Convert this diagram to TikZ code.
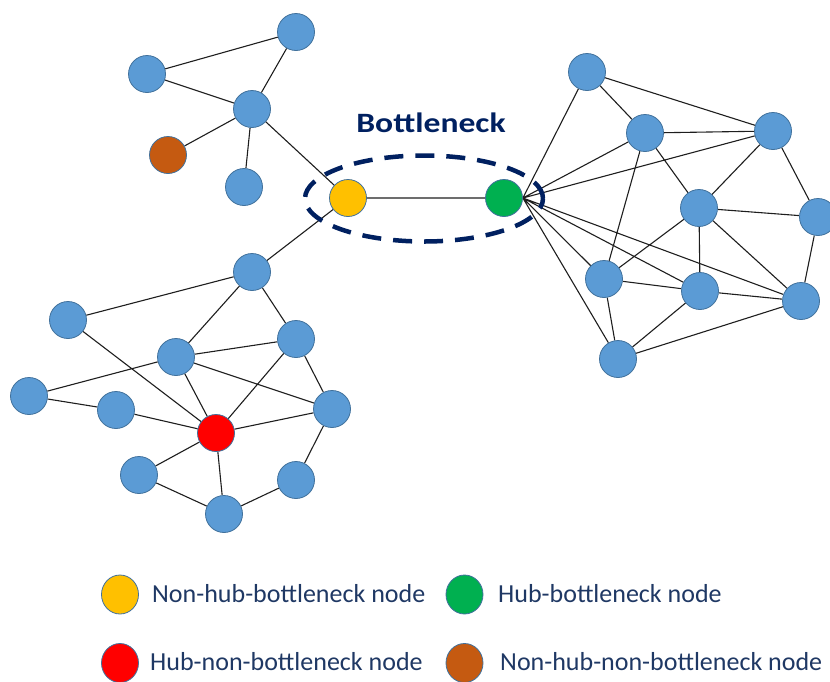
\documentclass[tikz,border=0pt]{standalone}
\usepackage{fontspec}
\setmainfont{Carlito}
\usetikzlibrary{shapes.geometric,backgrounds}
\definecolor{nodeblue}{RGB}{91,155,213}
\definecolor{nodeline}{RGB}{65,113,156}
\definecolor{hubyellow}{RGB}{255,192,0}
\definecolor{hubgreen}{RGB}{0,176,80}
\definecolor{hubred}{RGB}{255,0,0}
\definecolor{hubbrown}{RGB}{197,90,17}
\definecolor{navy}{RGB}{0,32,96}
\definecolor{legtext}{RGB}{31,56,100}
\definecolor{edgecol}{RGB}{30,30,30}
\tikzset{
  nd/.style={circle, draw=nodeline, line width=0.8pt, fill=nodeblue, minimum size=37pt, inner sep=0pt},
  yel/.style={nd, fill=hubyellow},
  grn/.style={nd, fill=hubgreen},
  rd/.style={nd, fill=hubred},
  brn/.style={nd, fill=hubbrown},
  edge/.style={draw=edgecol, line width=1.1pt},
  legdot/.style={ellipse, draw=nodeline, line width=0.8pt, minimum width=37pt, minimum height=39pt, inner sep=0pt},
  legtxt/.style={anchor=base west, text=legtext, font=\fontsize{26}{30}\selectfont, inner sep=0pt},
}
\begin{document}
\begin{tikzpicture}[x=1pt,y=-1pt]
\useasboundingbox (0,0) rectangle (830,681);
% top-left cluster
\node[nd] (t1) at (296,32) {};
\node[nd] (t2) at (147,74) {};
\node[nd] (t3) at (252,109) {};
\node[brn] (tb) at (168,155) {};
\node[nd] (t4) at (244,187) {};
\node[yel] (Y) at (348,198) {};
% bottom-left cluster
\node[nd] (b1) at (252,272) {};
\node[nd] (b2) at (68,320) {};
\node[nd] (b3) at (176,357) {};
\node[nd] (b4) at (296,339) {};
\node[nd] (b5) at (29,396) {};
\node[nd] (b6) at (116,410) {};
\node[rd] (R) at (216,433) {};
\node[nd] (b7) at (332,409) {};
\node[nd] (b8) at (139,475) {};
\node[nd] (b9) at (296,480) {};
\node[nd] (b10) at (224,514) {};
% right cluster
\node[grn] (G) at (504,198) {};
\node[nd] (r1) at (587,72) {};
\node[nd] (r2) at (645,133) {};
\node[nd] (r3) at (773,131) {};
\node[nd] (r4) at (699,208) {};
\node[nd] (r5) at (818,217) {};
\node[nd] (r6) at (604,279) {};
\node[nd] (r7) at (700,291) {};
\node[nd] (r8) at (801,301) {};
\node[nd] (r9) at (618,359) {};
\coordinate (ge) at (G.east);
% edges behind nodes
\begin{scope}[on background layer]
\path[edge] (t2) -- (t1) (t1) -- (t3) (t2) -- (t3) (t3) -- (tb) (t3) -- (t4) (t3) -- (Y)
  (Y) -- (G) (Y) -- (b1)
  (b1) -- (b2) (b1) -- (b3) (b1) -- (b4) (b2) -- (R) (b3) -- (b5) (b3) -- (b4)
  (b3) -- (R) (b3) -- (b7) (b4) -- (R) (b4) -- (b7) (b5) -- (b6) (b6) -- (R)
  (R) -- (b7) (R) -- (b8) (R) -- (b10) (b8) -- (b10) (b10) -- (b9) (b9) -- (b7)
  (r1) -- (r2) (r1) -- (r3) (r2) -- (r3) (r2) -- (r4) (r2) -- (r6) (r3) -- (r4)
  (r3) -- (r5) (r4) -- (r5) (r4) -- (r6) (r4) -- (r7) (r4) -- (r8) (r5) -- (r8)
  (r6) -- (r7) (r6) -- (r9) (r7) -- (r8) (r7) -- (r9) (r8) -- (r9)
  (ge) -- (r1) (ge) -- (r2) (ge) -- (r3) (ge) -- (r6) (ge) -- (r7) (ge) -- (r8) (ge) -- (r9);
\end{scope}
% bottleneck ellipse and label
\node[ellipse, draw=navy, line width=4.5pt, dash pattern=on 19pt off 12pt, minimum width=238pt, minimum height=86pt, inner sep=0pt] (bn) at (424,198.5) {};
\node[anchor=base, text=navy, font=\bfseries\fontsize{28}{32}\selectfont, inner sep=0pt] (bl) at (431,132) {\scalebox{1.2}[1]{Bottleneck}};
% legend
\node[legdot, fill=hubyellow] (l1) at (120,594.5) {};
\node[legtxt] (l1t) at (152,602) {Non-hub-bottleneck node};
\node[legdot, fill=hubgreen] (l2) at (464.5,594.5) {};
\node[legtxt] (l2t) at (498,602) {Hub-bottleneck node};
\node[legdot, fill=hubred] (l3) at (120,663) {};
\node[legtxt] (l3t) at (150,670) {Hub-non-bottleneck node};
\node[legdot, fill=hubbrown] (l4) at (464.5,663) {};
\node[legtxt] (l4t) at (500,670) {Non-hub-non-bottleneck node};
\end{tikzpicture}
\end{document}
